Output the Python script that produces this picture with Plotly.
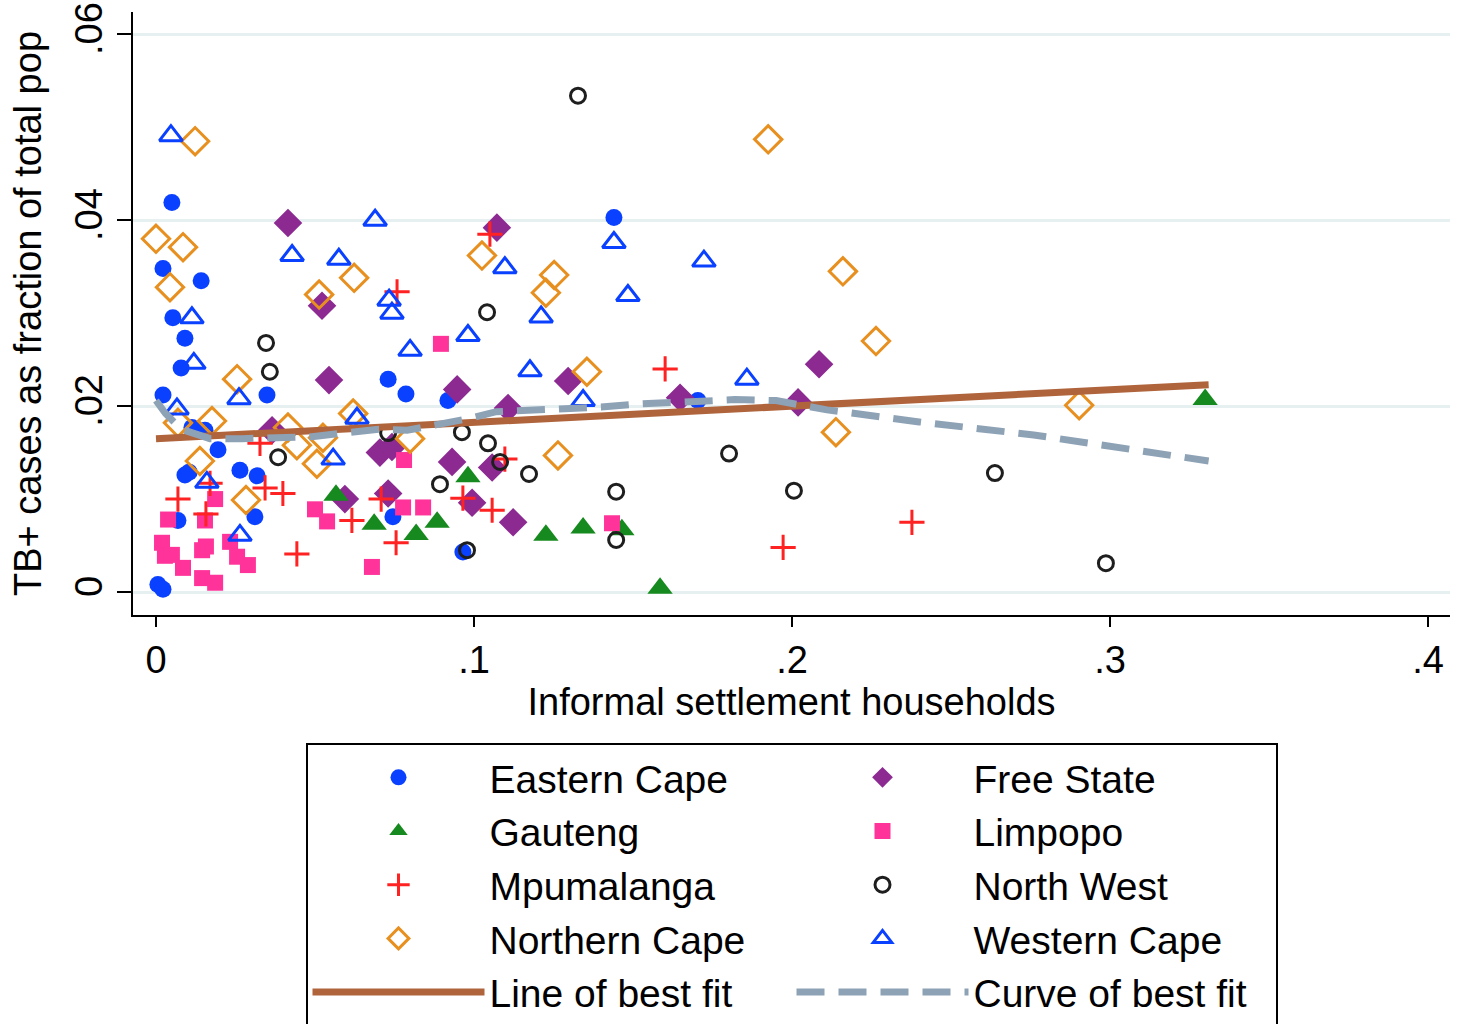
import plotly.graph_objects as go

# ---------------- data ----------------
ec_x = [0.0050, 0.0022, 0.0142, 0.0053, 0.0091, 0.0079, 0.0022, 0.0349, 0.0113, 0.0154,
        0.0195, 0.0091, 0.0104, 0.0264, 0.0318, 0.0311, 0.0069, 0.0006, 0.0022, 0.0730,
        0.0786, 0.0918, 0.1440, 0.0745, 0.0965, 0.1704]
ec_y = [0.0419, 0.0348, 0.0335, 0.0295, 0.0273, 0.0241, 0.0212, 0.0212, 0.0177, 0.0174,
        0.0153, 0.0126, 0.0129, 0.0131, 0.0125, 0.0081, 0.0077, 0.0008, 0.0003, 0.0229,
        0.0213, 0.0206, 0.0403, 0.0081, 0.0043, 0.0206]

fs_x = [0.0415, 0.1072, 0.0522, 0.0544, 0.0947, 0.1296, 0.1107, 0.2085, 0.1648, 0.2019,
        0.0365, 0.0704, 0.0742, 0.0931, 0.1057, 0.0594, 0.0730, 0.0994, 0.1123]
fs_y = [0.0397, 0.0392, 0.0308, 0.0228, 0.0218, 0.0227, 0.0198, 0.0245, 0.0209, 0.0204,
        0.0174, 0.0150, 0.0156, 0.0140, 0.0134, 0.0100, 0.0106, 0.0096, 0.0075]

ga_x = [0.0566, 0.0686, 0.0818, 0.0884, 0.0981, 0.1226, 0.1343, 0.1465, 0.1585, 0.3299]
ga_y = [0.0104, 0.0073, 0.0062, 0.0075, 0.0124, 0.0061, 0.0069, 0.0067, 0.0004, 0.0207]

li_x = [0.0896, 0.0780, 0.0777, 0.0840, 0.0500, 0.0538, 0.0679, 0.1434, 0.0186, 0.0038,
        0.0154, 0.0019, 0.0028, 0.0050, 0.0085, 0.0145, 0.0157, 0.0233, 0.0255, 0.0289,
        0.0145, 0.0186]
li_y = [0.0267, 0.0142, 0.0091, 0.0091, 0.0089, 0.0076, 0.0027, 0.0074, 0.0100, 0.0078,
        0.0077, 0.0053, 0.0039, 0.0040, 0.0026, 0.0045, 0.0049, 0.0054, 0.0038, 0.0029,
        0.0015, 0.0010]

mp_x = [0.1050, 0.0758, 0.1601, 0.0327, 0.0170, 0.0343, 0.0399, 0.0069, 0.0157, 0.0443,
        0.0616, 0.0708, 0.0965, 0.1057, 0.1097, 0.0755, 0.2377, 0.1972]
mp_y = [0.0385, 0.0323, 0.0240, 0.0160, 0.0117, 0.0112, 0.0106, 0.0100, 0.0084, 0.0041,
        0.0077, 0.0100, 0.0101, 0.0088, 0.0143, 0.0053, 0.0075, 0.0048]

nw_x = [0.1327, 0.1041, 0.0346, 0.0358, 0.0384, 0.0730, 0.0962, 0.1044, 0.1082, 0.1173,
        0.0893, 0.1447, 0.1447, 0.0978, 0.1802, 0.2006, 0.2638, 0.2987]
nw_y = [0.0534, 0.0301, 0.0268, 0.0237, 0.0145, 0.0171, 0.0172, 0.0160, 0.0140, 0.0127,
        0.0116, 0.0108, 0.0056, 0.0045, 0.0149, 0.0109, 0.0128, 0.0031]

nc_x = [0.0123, 0.1925, 0.0000, 0.0085, 0.0044, 0.0513, 0.0623, 0.1025, 0.1252, 0.1226,
        0.1355, 0.0255, 0.0620, 0.0069, 0.0176, 0.0415, 0.0443, 0.0138, 0.0506, 0.0525,
        0.0799, 0.0283, 0.1264, 0.2160, 0.2264, 0.2138, 0.2903]
nc_y = [0.0485, 0.0487, 0.0380, 0.0371, 0.0328, 0.0320, 0.0338, 0.0362, 0.0341, 0.0322,
        0.0237, 0.0229, 0.0192, 0.0182, 0.0184, 0.0177, 0.0158, 0.0141, 0.0138, 0.0166,
        0.0165, 0.0099, 0.0147, 0.0345, 0.0270, 0.0172, 0.0201]

wc_x = [0.0047, 0.0689, 0.0428, 0.0575, 0.1097, 0.1440, 0.1484, 0.1723, 0.0733, 0.0742,
        0.0113, 0.0981, 0.0799, 0.1211, 0.0119, 0.1176, 0.1858, 0.0261, 0.1343, 0.0066,
        0.0632, 0.0557, 0.0160, 0.0264]
wc_y = [0.0491, 0.0400, 0.0362, 0.0358, 0.0349, 0.0376, 0.0319, 0.0356, 0.0314, 0.0300,
        0.0295, 0.0276, 0.0260, 0.0296, 0.0246, 0.0238, 0.0229, 0.0208, 0.0206, 0.0197,
        0.0187, 0.0143, 0.0118, 0.0061]

fit_x = [0.0, 0.331]
fit_y = [0.0165, 0.0223]

curve_x = [0.000, 0.003, 0.008, 0.017, 0.027, 0.038, 0.049, 0.059, 0.070, 0.079,
           0.089, 0.099, 0.107, 0.115, 0.119, 0.129, 0.140, 0.150, 0.161, 0.182,
           0.195, 0.211, 0.240, 0.276, 0.331]
curve_y = [0.0206, 0.0192, 0.0175, 0.0165, 0.0165, 0.0166, 0.0167, 0.0171, 0.0175, 0.0174,
           0.0180, 0.0187, 0.0194, 0.0195, 0.0196, 0.0198, 0.0199, 0.0202, 0.0204, 0.0207,
           0.0206, 0.0196, 0.0183, 0.0169, 0.0141]

x_ticks = [0, 0.1, 0.2, 0.3, 0.4]
x_ticklabels = ["0", ".1", ".2", ".3", ".4"]
y_ticks = [0, 0.02, 0.04, 0.06]
y_ticklabels = ["0", ".02", ".04", ".06"]

# ---------------- styles ----------------
BLUE = "#0a40ff"
GREEN = "#168a1e"
PURPLE = "#8c2a92"
PINK = "#ff3399"
RED = "#ff2222"
BLACK = "#1e1e1e"
ORANGE = "#e8901f"
FONT = "Liberation Sans, Arial, Helvetica, sans-serif"

fig = go.Figure()

def pts(x, y, name, symbol, color, size, lw=0, open_=False):
    if open_:
        marker = dict(symbol=symbol, size=size, color=color, line=dict(color=color, width=lw))
    else:
        marker = dict(symbol=symbol, size=size, color=color, line=dict(width=0))
    fig.add_trace(go.Scatter(x=x, y=y, mode="markers", name=name, marker=marker))

# order chosen so a 2-column row-major legend matches the reference
pts(ec_x, ec_y, "Eastern Cape", "circle", BLUE, 17)
pts(fs_x, fs_y, "Free State", "diamond", PURPLE, 22)
pts(ga_x, ga_y, "Gauteng", "triangle-up", GREEN, 22)
pts(li_x, li_y, "Limpopo", "square", PINK, 16)
pts(mp_x, mp_y, "Mpumalanga", "cross-thin", RED, 18, lw=3, open_=True)
pts(nw_x, nw_y, "North West", "circle-open", BLACK, 15, lw=3, open_=True)
pts(nc_x, nc_y, "Northern Cape", "diamond-open", ORANGE, 21, lw=3, open_=True)
pts(wc_x, wc_y, "Western Cape", "triangle-up-open", BLUE, 20, lw=3, open_=True)

fig.add_trace(go.Scatter(x=fit_x, y=fit_y, mode="lines", name="Line of best fit",
                         line=dict(color="#b0643c", width=7)))
fig.add_trace(go.Scatter(x=curve_x, y=curve_y, mode="lines", name="Curve of best fit",
                         line=dict(color="#8ea2b6", width=7, dash="28px,14px")))

fig.update_layout(
    width=1460, height=1024,
    margin=dict(l=133, r=10, t=12, b=409, autoexpand=False),
    paper_bgcolor="white", plot_bgcolor="white",
    font=dict(family=FONT, size=38, color="black"),
    showlegend=True,
    legend=dict(
        orientation="h",
        x=0.5, xanchor="center",
        y=-0.213, yanchor="top",
        bordercolor="black", borderwidth=2,
        font=dict(family=FONT, size=39, color="black"),
        entrywidth=297, entrywidthmode="pixels",
        itemwidth=172,
        traceorder="normal",
    ),
    xaxis=dict(
        range=[-0.00723, 0.4069],
        tickvals=x_ticks, ticktext=x_ticklabels,
        showgrid=False, zeroline=False, automargin=False,
        showline=True, linecolor="black", linewidth=2,
        ticks="outside", ticklen=10, tickwidth=2, tickcolor="black",
        tickfont=dict(family=FONT, size=38),
        ticklabeloverflow="allow",
        title=dict(text="Informal settlement households", font=dict(family=FONT, size=38), standoff=2),
    ),
    yaxis=dict(
        range=[-0.00247, 0.0624],
        tickvals=y_ticks, ticktext=y_ticklabels,
        tickangle=-90,
        showgrid=True, gridcolor="#e6f0f1", gridwidth=3,
        zeroline=False, automargin=False,
        showline=True, linecolor="black", linewidth=2,
        ticks="outside", ticklen=14, tickwidth=2, tickcolor="black",
        tickfont=dict(family=FONT, size=38),
        ticklabeloverflow="allow",
        title=dict(text="TB+ cases as fraction of total pop", font=dict(family=FONT, size=38), standoff=14),
    ),
)

# remove the browser's default 8px page margin so the figure fills the window exactly
fig.write_html("out.html",
               config={"displayModeBar": False},
               post_script="document.body.style.margin='0';document.body.style.overflow='hidden';")
